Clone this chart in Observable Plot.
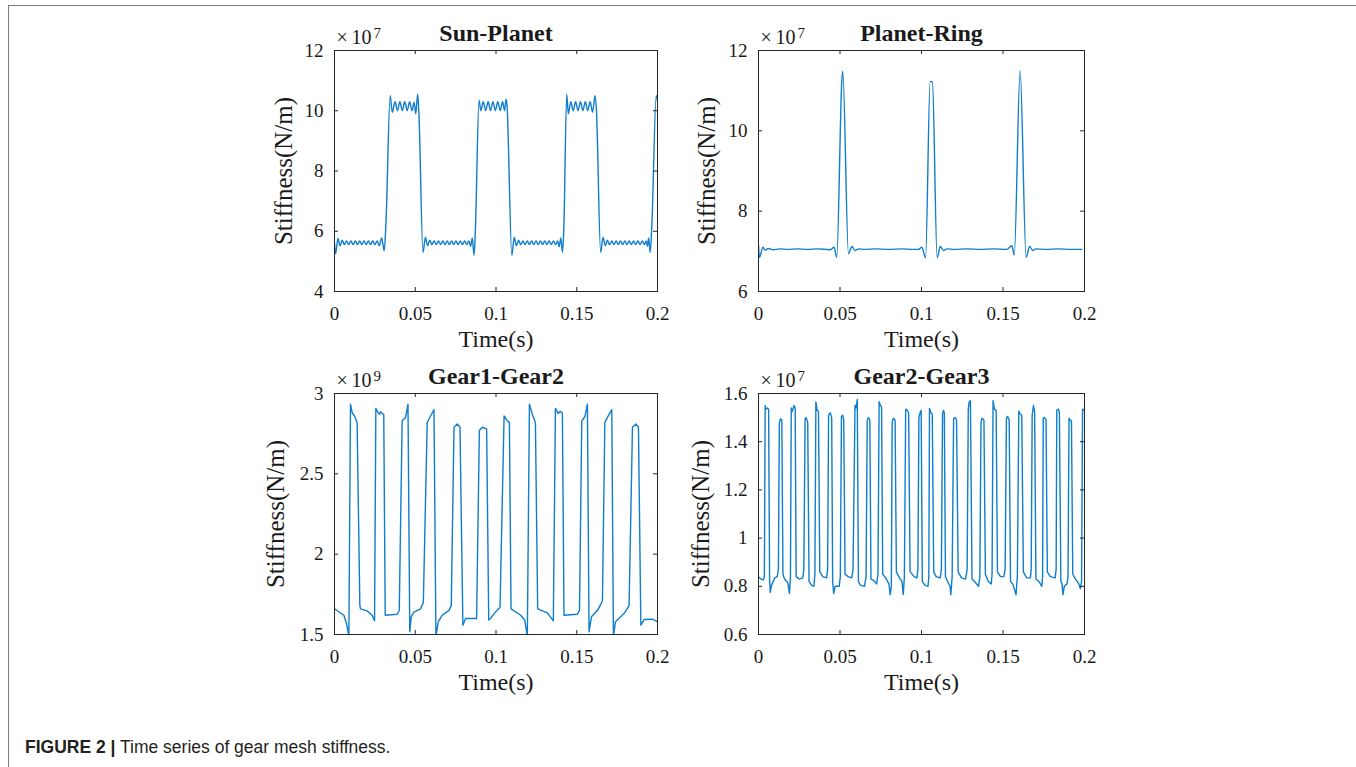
<!DOCTYPE html>
<html>
<head>
<meta charset="utf-8">
<script src="https://cdn.jsdelivr.net/npm/d3@7"></script>
<script src="https://cdn.jsdelivr.net/npm/@observablehq/plot@0.6"></script>
<style>
  html, body { margin: 0; padding: 0; background: #fff; }
  body { width: 1356px; height: 767px; overflow: hidden; position: relative; }
  #border { position: absolute; left: 8px; top: 5px; width: 1400px; height: 800px;
            border-left: 1.5px solid #7a7a7a; border-top: 1.5px solid #7a7a7a; }
  .panel { position: absolute; }
  #caption { position: absolute; left: 25px; top: 739px; font-family: "Liberation Sans", Arial, sans-serif;
             font-size: 17.5px; line-height: 17.5px; color: #231f20; white-space: nowrap; }
  #caption b { font-weight: bold; }
</style>
</head>
<body>
<div id="border"></div>
<div id="charts"></div>
<div id="caption"><b>FIGURE 2 |</b> Time series of gear mesh stiffness.</div>
<script>
// ---------- data (time in s, stiffness in units shown by the exponent label) ----------
const xTicks = [0, 0.05, 0.1, 0.15, 0.2];
const xTickLabels = ["0", "0.05", "0.1", "0.15", "0.2"];

const titles = ["Sun-Planet", "Planet-Ring", "Gear1-Gear2", "Gear2-Gear3"];
const exponents = ["7", "7", "9", "7"];

const spTicks = [4, 6, 8, 10, 12];
const spTickLabels = ["4", "6", "8", "10", "12"];
const prTicks = [6, 8, 10, 12];
const prTickLabels = ["6", "8", "10", "12"];
const g12Ticks = [1.5, 2, 2.5, 3];
const g12TickLabels = ["1.5", "2", "2.5", "3"];
const g23Ticks = [0.6, 0.8, 1, 1.2, 1.4, 1.6];
const g23TickLabels = ["0.6", "0.8", "1", "1.2", "1.4", "1.6"];

// Sun-Planet (x10^7 N/m)
const sunPlanet = [
[0,5.62],[0.0007,5.25],[0.0021,5.76],[0.0034,5.52],[0.0048,5.7],[0.0061,5.55],[0.0075,5.68],[0.0088,5.56],
[0.0102,5.68],[0.0115,5.56],[0.0129,5.68],[0.0142,5.56],[0.0156,5.68],[0.0169,5.56],[0.0183,5.68],[0.0196,5.56],
[0.021,5.68],[0.0223,5.56],[0.0237,5.68],[0.025,5.56],[0.0264,5.68],[0.0277,5.52],[0.0292,5.78],[0.0308,5.35],
[0.0318,6.2],[0.0345,10.5],[0.0358,9.95],[0.0375,10.3],[0.039,10.0],[0.0405,10.3],[0.042,10.0],[0.0435,10.3],
[0.045,10.0],[0.0465,10.3],[0.048,10.0],[0.0493,10.28],[0.0503,9.9],[0.0515,10.55],
[0.0522,10.0],[0.0548,5.3],[0.0563,5.8],[0.0576,5.52],[0.059,5.7],[0.0603,5.55],[0.0617,5.68],[0.063,5.56],
[0.0644,5.68],[0.0657,5.56],[0.0671,5.68],[0.0684,5.56],[0.0698,5.68],[0.0711,5.56],[0.0725,5.68],[0.0738,5.56],
[0.0752,5.68],[0.0765,5.56],[0.0779,5.68],[0.0792,5.56],[0.0806,5.68],[0.0819,5.56],[0.0832,5.68],[0.0843,5.5],
[0.0853,5.78],[0.0864,5.2],[0.0872,6.0],[0.0895,10.35],[0.0906,10.0],[0.0921,10.3],[0.0936,10.0],[0.0951,10.3],
[0.0966,10.0],[0.0981,10.3],[0.0996,10.0],[0.1011,10.3],[0.1026,10.0],[0.1041,10.3],[0.1053,10.0],[0.1062,10.38],
[0.1068,10.2],[0.1098,5.2],[0.1113,5.8],[0.1126,5.52],[0.114,5.7],[0.1153,5.55],
[0.1167,5.68],[0.118,5.56],[0.1194,5.68],[0.1207,5.56],[0.1221,5.68],[0.1234,5.56],[0.1248,5.68],[0.1261,5.56],
[0.1275,5.68],[0.1288,5.56],[0.1302,5.68],[0.1315,5.56],[0.1329,5.68],[0.1342,5.56],[0.1356,5.68],[0.1369,5.56],
[0.1382,5.68],[0.1391,5.48],[0.1401,5.78],[0.1412,5.3],[0.142,6.1],[0.1438,10.55],[0.1448,9.9],[0.1463,10.3],
[0.1478,10.0],[0.1493,10.3],[0.1508,10.0],[0.1523,10.3],[0.1538,10.0],[0.1553,10.3],[0.1568,10.0],[0.1583,10.3],
[0.1598,9.95],[0.1613,10.5],[0.1622,10.0],[0.1648,5.3],
[0.1663,5.8],[0.1676,5.52],[0.169,5.7],[0.1703,5.55],[0.1717,5.68],[0.173,5.56],[0.1744,5.68],[0.1757,5.56],
[0.1771,5.68],[0.1784,5.56],[0.1798,5.68],[0.1811,5.56],[0.1825,5.68],[0.1838,5.56],[0.1852,5.68],[0.1865,5.56],
[0.1879,5.68],[0.1892,5.56],[0.1906,5.68],[0.1919,5.56],[0.193,5.68],[0.1938,5.5],[0.1945,5.78],[0.1955,5.3],
[0.1965,6.2],[0.1992,10.5],[0.2,10.3]
];

// Planet-Ring (x10^7 N/m)
const planetRing = [
[0,7.15],[0.0006,6.85],[0.0027,7.1],[0.004,7.03],[0.006,7.07],[0.009,7.04],[0.013,7.06],[0.018,7.05],
[0.024,7.06],[0.03,7.05],[0.036,7.06],[0.041,7.05],[0.044,7.04],[0.0464,7.1],[0.048,6.85],[0.0512,11.3],
[0.0517,11.48],[0.0552,6.94],[0.0573,7.12],[0.0593,7.02],[0.0613,7.06],[0.065,7.05],[0.072,7.06],[0.08,7.05],
[0.088,7.06],[0.095,7.05],[0.0982,7.05],[0.1002,7.1],[0.1025,6.84],[0.1053,11.23],[0.1067,11.22],[0.1096,6.84],
[0.1115,7.12],[0.1135,7.02],[0.1155,7.06],[0.12,7.05],[0.128,7.06],[0.136,7.05],[0.144,7.06],[0.1524,7.05],
[0.1554,7.14],[0.1569,6.91],[0.1605,11.5],[0.1642,6.85],[0.1663,7.12],[0.1683,7.02],[0.17,7.06],[0.176,7.05],
[0.184,7.06],[0.192,7.05],[0.1984,7.05]
];

// Gear1-Gear2 (x10^9 N/m)
const gear12 = [
[0,1.66],[0.0058,1.62],[0.0074,1.57],[0.0089,1.49],[0.0099,2.934],[0.011,2.88],[0.0124,2.86],[0.014,2.82],
[0.0157,1.68],[0.0161,1.66],[0.0202,1.647],[0.0233,1.62],[0.0248,1.585],[0.0256,2.907],[0.0269,2.882],[0.0279,2.87],
[0.0285,2.887],[0.0297,2.875],[0.0305,2.87],[0.0314,1.62],[0.0388,1.626],[0.0401,1.651],[0.0419,2.83],[0.044,2.85],
[0.0455,2.934],[0.0466,1.517],[0.0475,1.61],[0.0492,1.64],[0.0533,1.66],[0.055,1.7],[0.0574,2.82],[0.0595,2.86],
[0.0616,2.9],[0.0628,1.49],[0.0643,1.58],[0.0667,1.62],[0.0709,1.65],[0.0723,1.68],[0.074,2.79],[0.076,2.81],
[0.0777,2.79],[0.0795,1.558],[0.0812,1.6],[0.088,1.6],[0.0897,2.77],[0.0915,2.79],[0.0942,2.78],[0.0955,1.59],
[0.0967,1.6],[0.0988,1.63],[0.1025,1.67],[0.105,2.86],[0.107,2.83],[0.1083,2.82],[0.1093,1.66],[0.1153,1.62],
[0.1178,1.59],[0.1194,1.49],[0.1207,2.934],[0.1225,2.87],[0.1244,2.82],[0.1258,1.66],[0.1318,1.635],[0.1355,1.585],
[0.1368,2.907],[0.1386,2.875],[0.1397,2.89],[0.1411,2.878],[0.1421,1.62],[0.1504,1.626],[0.1517,1.65],[0.1531,2.83],
[0.155,2.855],[0.1566,2.934],[0.1576,1.517],[0.1591,1.61],[0.1632,1.655],[0.1659,1.71],[0.1674,2.82],[0.17,2.87],
[0.1717,2.9],[0.1727,1.49],[0.174,1.58],[0.1793,1.63],[0.1824,1.68],[0.1845,2.79],[0.1866,2.81],[0.1882,2.79],
[0.1897,1.558],[0.1917,1.593],[0.1969,1.595],[0.2,1.58]
];

// Gear2-Gear3 (x10^7 N/m)
const gear23 = [
[0,0.84],[0.0015,0.83],[0.003,0.827],[0.0036,0.84],[0.0041,1.55],[0.0046,1.535],[0.0055,1.54],[0.0062,1.535],
[0.0068,0.83],[0.0072,0.775],[0.008,0.805],[0.01,0.835],[0.0115,0.84],[0.0122,0.87],[0.0128,1.48],[0.0135,1.495],
[0.0143,1.49],[0.015,0.85],[0.016,0.83],[0.018,0.815],[0.019,0.77],[0.0196,0.84],[0.0201,1.54],[0.0207,1.525],
[0.0218,1.55],[0.0225,1.54],[0.0231,0.84],[0.025,0.83],[0.0272,0.835],[0.0278,0.87],[0.0286,1.495],[0.0292,1.5],
[0.0302,1.48],[0.031,0.82],[0.0325,0.805],[0.034,0.8],[0.0346,0.85],[0.0352,1.565],[0.036,1.53],[0.0368,1.525],
[0.0376,0.86],[0.0395,0.84],[0.0418,0.835],[0.0424,0.87],[0.043,1.51],[0.044,1.52],[0.0449,1.5],[0.0455,0.82],
[0.0461,0.77],[0.047,0.8],[0.0495,0.8],[0.0502,0.84],[0.0509,1.505],[0.0516,1.51],[0.0523,1.49],[0.0531,0.85],
[0.055,0.84],[0.0572,0.835],[0.058,0.87],[0.0592,1.55],[0.0598,1.54],[0.0606,1.575],[0.0613,0.82],[0.0625,0.805],
[0.065,0.8],[0.066,0.84],[0.0667,1.49],[0.0675,1.5],[0.0683,1.49],[0.069,0.83],[0.0705,0.825],[0.0725,0.81],
[0.0733,0.85],[0.074,1.566],[0.0748,1.55],[0.0755,1.545],[0.0762,0.85],[0.078,0.835],[0.08,0.81],[0.0808,0.765],
[0.0815,0.8],[0.082,1.48],[0.0827,1.497],[0.0838,1.49],[0.0846,0.86],[0.0865,0.835],[0.088,0.82],[0.0888,0.766],
[0.0895,0.84],[0.0903,1.535],[0.0913,1.53],[0.0921,1.52],[0.093,0.86],[0.0955,0.84],[0.0972,0.835],[0.0978,0.87],
[0.0984,1.5],[0.099,1.517],[0.0998,1.53],[0.1005,0.82],[0.102,0.805],[0.104,0.8],[0.1045,0.84],[0.1049,1.538],
[0.1057,1.52],[0.1066,1.515],[0.1075,0.86],[0.109,0.84],[0.1115,0.835],[0.1122,0.87],[0.1129,1.517],[0.1135,1.53],
[0.114,1.52],[0.1147,0.84],[0.116,0.82],[0.1175,0.8],[0.118,0.765],[0.1188,0.84],[0.1197,1.497],[0.1207,1.5],
[0.1215,1.49],[0.1225,0.86],[0.1245,0.835],[0.127,0.83],[0.128,0.87],[0.1287,1.535],[0.1293,1.566],[0.13,1.57],
[0.131,0.83],[0.1325,0.82],[0.135,0.8],[0.1358,0.84],[0.1365,1.48],[0.1371,1.497],[0.1383,1.49],[0.1392,0.85],
[0.141,0.82],[0.1428,0.81],[0.1433,0.85],[0.1439,1.57],[0.1447,1.535],[0.1458,1.53],[0.1466,0.86],[0.1485,0.84],
[0.1505,0.84],[0.1513,0.87],[0.1521,1.497],[0.1528,1.505],[0.1538,1.49],[0.1546,0.82],[0.156,0.81],[0.158,0.765],
[0.1588,0.84],[0.1597,1.527],[0.1605,1.515],[0.1615,1.51],[0.1625,0.86],[0.1645,0.835],[0.1668,0.835],[0.1673,0.87],
[0.1679,1.51],[0.1687,1.55],[0.1694,1.525],[0.1702,0.83],[0.172,0.82],[0.1738,0.8],[0.1743,0.84],[0.1747,1.497],
[0.1755,1.5],[0.1764,1.49],[0.1772,0.86],[0.179,0.84],[0.182,0.835],[0.1826,0.87],[0.183,1.53],[0.184,1.535],
[0.1846,1.52],[0.1855,0.82],[0.1862,0.81],[0.1868,0.765],[0.1876,0.8],[0.1893,0.81],[0.1899,0.84],[0.1905,1.497],
[0.1912,1.49],[0.192,1.485],[0.1928,0.85],[0.1945,0.83],[0.1965,0.81],[0.1975,0.79],[0.1982,0.82],[0.1988,1.535],
[0.2,1.53]
];

// ---------- layout ----------
const SERIF = '"Liberation Serif", "Times New Roman", Times, serif';
const BLUE = "#0f7ecc";
const INK = "#1a1a1a";
const FRAME = "#262626";

const panels = [
  {title: titles[0], exp: exponents[0], data: sunPlanet, curve: "monotone-x", domain: [4, 12], ticks: spTicks, labels: spTickLabels, left: 334, top: 50, w: 323, h: 241, ylab: -51},
  {title: titles[1], exp: exponents[1], data: planetRing, curve: "monotone-x", domain: [6, 12], ticks: prTicks, labels: prTickLabels, left: 758, top: 50, w: 326, h: 241, ylab: -52},
  {title: titles[2], exp: exponents[2], data: gear12, curve: "linear", domain: [1.5, 3], ticks: g12Ticks, labels: g12TickLabels, left: 334, top: 393, w: 323, h: 241, ylab: -59},
  {title: titles[3], exp: exponents[3], data: gear23, curve: "linear", domain: [0.6, 1.6], ticks: g23Ticks, labels: g23TickLabels, left: 758, top: 393, w: 326, h: 241, ylab: -58}
];

const mL = 90, mT = 50, mR = 30, mB = 70;
const host = document.getElementById("charts");

for (const p of panels) {
  const chart = Plot.plot({
    width: p.w + mL + mR,
    height: p.h + mT + mB,
    marginLeft: mL, marginTop: mT, marginRight: mR, marginBottom: mB,
    style: {fontFamily: SERIF, fontSize: "19px", color: INK, background: "transparent", overflow: "visible"},
    x: {domain: [0, 0.2]},
    y: {domain: p.domain},
    marks: [
      Plot.line(p.data, {x: d => d[0], y: d => d[1], stroke: BLUE, strokeWidth: 1.4, curve: p.curve, clip: true}),
      // inward ticks on all four sides
      Plot.ruleX(xTicks, {x: d => d, insetTop: p.h - 4, stroke: FRAME}),
      Plot.ruleX(xTicks, {x: d => d, insetBottom: p.h - 4, stroke: FRAME}),
      Plot.ruleY(p.ticks, {y: d => d, insetRight: p.w - 4, stroke: FRAME}),
      Plot.ruleY(p.ticks, {y: d => d, insetLeft: p.w - 4, stroke: FRAME}),
      Plot.frame({stroke: FRAME, strokeWidth: 1}),
      Plot.axisX({ticks: xTicks, tickSize: 0, tickPadding: 15, tickFormat: d => xTickLabels[xTicks.indexOf(d)], fontSize: 19, label: null}),
      Plot.axisY({ticks: p.ticks, tickSize: 0, tickPadding: 11, tickFormat: d => p.labels[p.ticks.indexOf(d)], fontSize: 19, label: null}),
      Plot.text([p.title], {text: d => d, frameAnchor: "top", dy: -10, textAnchor: "middle", lineAnchor: "bottom", fontSize: 24, fontWeight: "bold"}),
      Plot.text(["Time(s)"], {text: d => d, frameAnchor: "bottom", dy: 55, textAnchor: "middle", lineAnchor: "bottom", fontSize: 24}),
      Plot.text(["Stiffness(N/m)"], {text: d => d, frameAnchor: "left", dx: p.ylab, rotate: -90, textAnchor: "middle", lineAnchor: "middle", fontSize: 25}),
      Plot.text(["\u00d7"], {text: d => d, frameAnchor: "top-left", dx: 2, dy: -7, textAnchor: "start", lineAnchor: "bottom", fontSize: 20}),
      Plot.text(["10"], {text: d => d, frameAnchor: "top-left", dx: 17, dy: -7, textAnchor: "start", lineAnchor: "bottom", fontSize: 20}),
      Plot.text([p.exp], {text: d => d, frameAnchor: "top-left", dx: 39, dy: -13, textAnchor: "start", lineAnchor: "bottom", fontSize: 15})
    ]
  });
  const div = document.createElement("div");
  div.className = "panel";
  div.style.left = (p.left - mL) + "px";
  div.style.top = (p.top - mT) + "px";
  div.style.width = (p.w + mL + mR) + "px";
  div.style.height = (p.h + mT + mB) + "px";
  div.appendChild(chart);
  host.appendChild(div);
}
</script>
</body>
</html>
